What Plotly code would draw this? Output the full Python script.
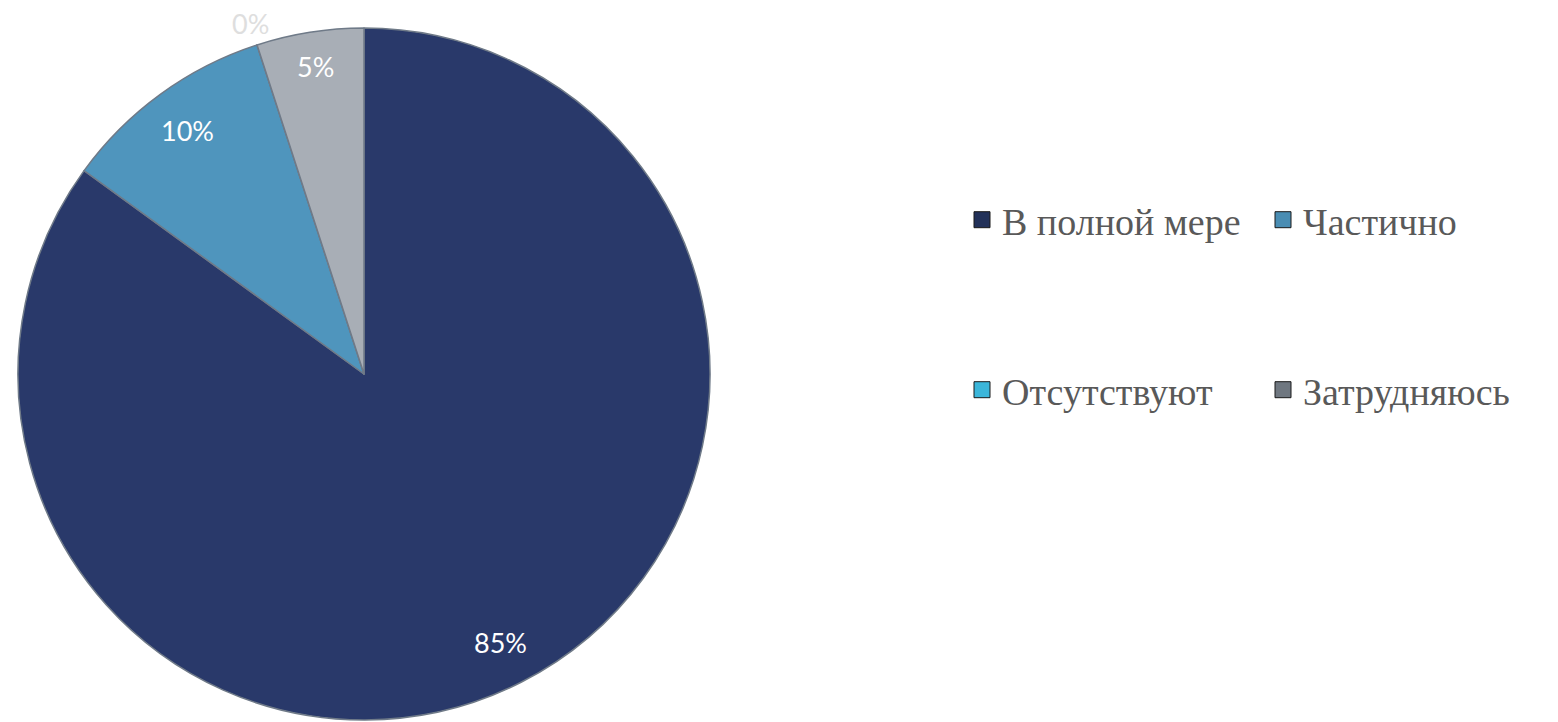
import math
import plotly.graph_objects as go

categories = ["В полной мере", "Частично", "Отсутствуют", "Затрудняюсь"]
values = [85, 10, 0, 5]
label_texts = ["85%", "10%", "0%", "5%"]

# styling
slice_colors = ["#29396a", "#4f95bd", "#3fb4d6", "#a8aeb6"]
legend_colors = ["#223159", "#4a8db3", "#3bb6da", "#6f7780"]
label_colors = ["white", "white", "#dedede", "white"]
label_radius = [0.87, 0.87, 1.064, 0.90]   # fraction of pie radius

W, H = 1558, 722
OFF = 8  # page body margin offset of the figure
pie_x = [(18 - OFF) / W, (710 - OFF) / W]
pie_y = [1 - (720 - OFF) / H, 1 - (28 - OFF) / H]

fig = go.Figure()

fig.add_trace(go.Pie(
    labels=categories,
    values=values,
    sort=False,
    direction="clockwise",
    rotation=0,
    marker=dict(colors=slice_colors, line=dict(color="#6f7a88", width=1.5)),
    textinfo="none",
    showlegend=False,
    hoverinfo="label+percent",
    domain=dict(x=pie_x, y=pie_y),
))

# data labels placed along each slice's bisector
R = min((pie_x[1] - pie_x[0]) * W, (pie_y[1] - pie_y[0]) * H) / 2
cx = (pie_x[0] + pie_x[1]) / 2
cy = (pie_y[0] + pie_y[1]) / 2
total = sum(values)
cum = 0
for v, txt, col, f in zip(values, label_texts, label_colors, label_radius):
    theta = 2 * math.pi * (cum + v / 2) / total
    cum += v
    fig.add_annotation(
        x=cx, y=cy, xref="paper", yref="paper",
        xanchor="center", yanchor="middle",
        xshift=R * f * math.sin(theta), yshift=R * f * math.cos(theta),
        text=txt, showarrow=False,
        font=dict(family="Lato", size=27, color=col),
    )

# legend entries (two rows, two columns)
for i, (cat, col) in enumerate(zip(categories, legend_colors)):
    fig.add_trace(go.Scatter(
        x=[None], y=[None], mode="markers", name=cat,
        marker=dict(symbol="square", size=16, color=col,
                    line=dict(color="#1a1a1a", width=1)),
        legend="legend" if i < 2 else "legend2",
        hoverinfo="skip",
    ))

legend_common = dict(
    orientation="h",
    font=dict(family="Liberation Serif", size=38, color="#595959"),
    entrywidth=256,
    entrywidthmode="pixels",
    xanchor="left",
    yanchor="middle",
    itemwidth=30,
    bgcolor="rgba(0,0,0,0)",
)

fig.update_layout(
    width=W,
    height=H,
    margin=dict(l=0, r=0, t=0, b=0),
    paper_bgcolor="white",
    plot_bgcolor="white",
    xaxis=dict(visible=False, domain=[0.99, 1.0]),
    yaxis=dict(visible=False, domain=[0.99, 1.0]),
    legend=dict(x=954 / W, y=1 - 212 / H, **legend_common),
    legend2=dict(x=954 / W, y=1 - 382 / H, **legend_common),
)

fig.write_html("out.html")
